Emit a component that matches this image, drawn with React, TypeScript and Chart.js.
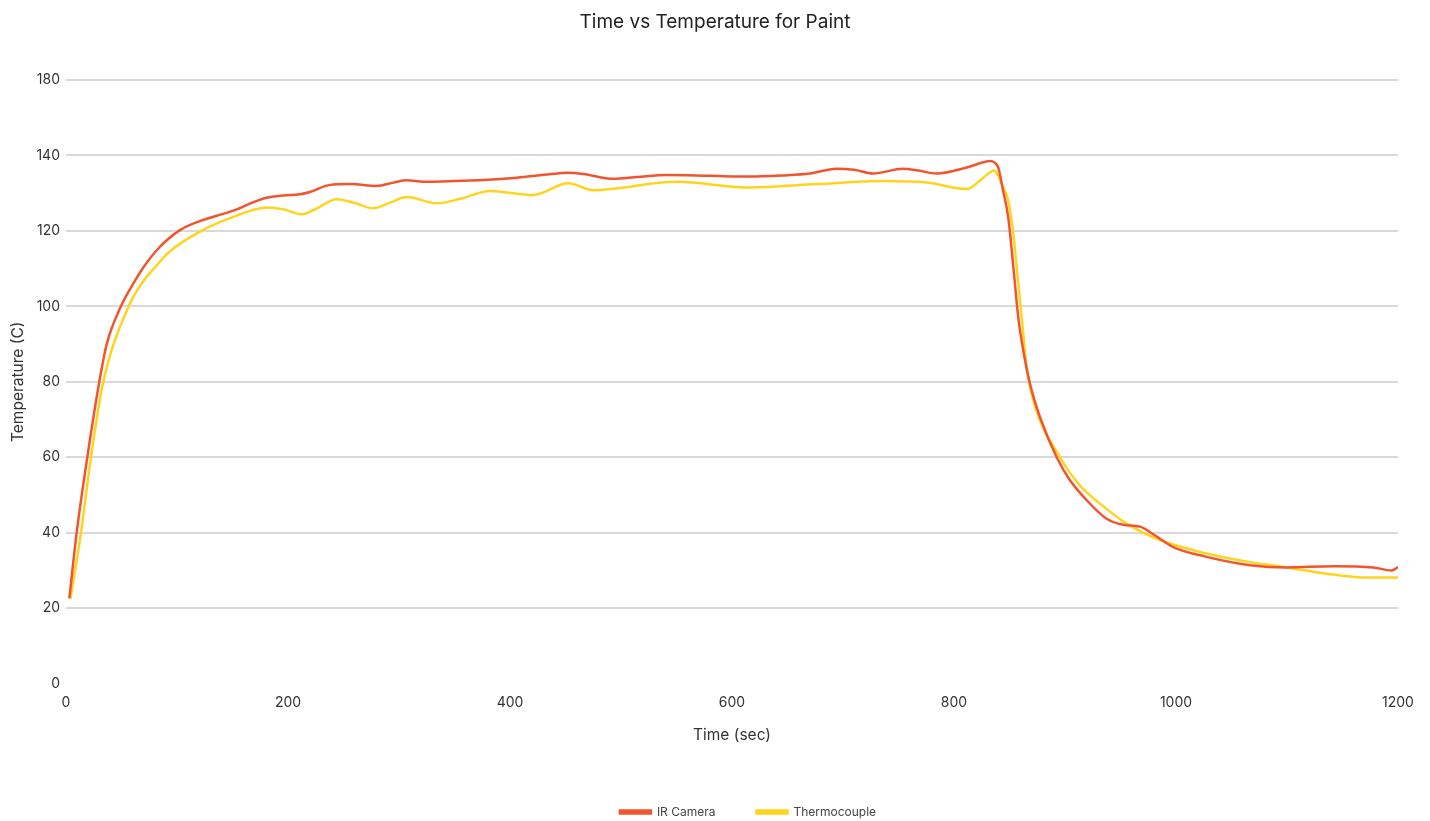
import React, { useEffect, useRef } from 'react';
import { Chart, registerables } from 'chart.js';

Chart.register(...registerables);

const chartTitle = 'Time vs Temperature for Paint';
const xTitle = 'Time (sec)';
const yTitle = 'Temperature (C)';
const seriesNames = ['IR Camera', 'Thermocouple'];

const irTime = [
  3, 9.6, 19.2, 30, 36.7, 49.5, 62.2, 69.6, 84, 102.7, 120.7, 135.8, 153.8, 166, 180.8, 195.8,
  210.8, 219.8, 237.8, 255.9, 279.9, 295, 306.9, 321.9, 350, 375.9, 406, 436, 452, 466, 493,
  515, 541, 580, 616, 645, 670, 694, 710, 727, 754, 768, 784, 811.5, 826.4, 832.4, 836.5,
  839.9, 844, 848.9, 853.5, 857.9, 862.4, 868.5, 877.5, 892.5, 904.5, 919.6, 937.5, 952.5,
  967.5, 979.5, 997.5, 1027.6, 1066.7, 1099.7, 1141.7, 1177.8, 1194.3, 1200,
];
const irTemp = [
  22.6, 40, 60, 80, 90, 100, 106.8, 110.3, 115.6, 120.2, 122.6, 124, 125.7, 127.3, 128.8, 129.4,
  129.7, 130.3, 132.2, 132.4, 131.9, 132.8, 133.4, 133, 133.2, 133.5, 134.1, 135, 135.4, 135.1, 133.8,
  134.3, 134.8, 134.6, 134.4, 134.7, 135.2, 136.5, 136.2, 135.2, 136.5, 136, 135.2, 136.8, 138.2, 138.5, 138.1,
  136.8, 131, 123.5, 110.3, 97.1, 88.3, 79.4, 70.6, 60, 53.9, 48.6, 43.7, 42.1,
  41.6, 39.6, 36.2, 33.6, 31.4, 30.8, 31.1, 30.8, 30.0, 30.9,
];

const tcTime = [
  4, 13.5, 22.5, 33.6, 56.5, 68, 80, 93.7, 120.7, 150.7, 180.8, 195.8, 212.3, 225, 243.9,
  260, 276.8, 292, 306.9, 334, 355, 382, 421, 452.5, 475, 550, 616, 676, 736, 776, 811.5, 826.4,
  836, 844.4, 848.9, 853.5, 856.5, 861, 865.5, 871.5, 895.5, 913.5, 931.5, 955.6, 982.6, 1021.6,
  1066.7, 1099.7, 1141.7, 1171.8, 1200,
];
const tcTemp = [
  22.5, 40, 60, 80, 100, 106, 110.3, 114.6, 119.8, 123.7, 126.2, 125.7, 124.4, 125.8, 128.4,
  127.4, 126, 127.5, 129, 127.3, 128.5, 130.6, 129.5, 132.6, 130.8, 133, 131.5, 132.4, 133.2, 132.8, 131.1, 134.1,
  136, 131.5, 128, 119.1, 110.3, 97.1, 83.8, 75, 60, 52.5, 47.7, 42.4, 38.4, 34.9,
  32.2, 30.8, 28.9, 28.1, 28.1,
];

const yTickValues = [0, 20, 40, 60, 80, 100, 120, 140, 160];
const yTickLabels = ['0', '20', '40', '60', '80', '100', '120', '140', '180'];

const RED = '#F2542D';
const YELLOW = '#FFD41F';
const TEXT = '#333333';
const FONT = 'Inter, "Noto Sans", sans-serif';

const shiftPlugin = {
  id: 'shiftBlocks',
  afterLayout(chart: any) {
    if (chart.legend) {
      chart.legend.left += 16;
      chart.legend.right += 16;
    }
    if (chart.titleBlock) {
      chart.titleBlock.right += 32;
    }
  },
};

export default function App() {
  const ref = useRef<HTMLCanvasElement>(null);

  useEffect(() => {
    if (!ref.current) return;
    const chart = new Chart(ref.current, {
      type: 'line',
      data: {
        datasets: [
          {
            label: seriesNames[0],
            data: irTime.map((t, i) => ({ x: t, y: irTemp[i] })),
            borderColor: RED,
            backgroundColor: RED,
            borderWidth: 2.5,
            pointRadius: 0,
            cubicInterpolationMode: 'monotone',
            fill: false,
          },
          {
            label: seriesNames[1],
            data: tcTime.map((t, i) => ({ x: t, y: tcTemp[i] })),
            borderColor: YELLOW,
            backgroundColor: YELLOW,
            borderWidth: 2.5,
            pointRadius: 0,
            cubicInterpolationMode: 'monotone',
            fill: false,
          },
        ],
      },
      plugins: [shiftPlugin],
      options: {
        animation: false,
        responsive: true,
        maintainAspectRatio: false,
        layout: { padding: { left: 0, right: 32, top: 0, bottom: 0 } },
        scales: {
          x: {
            type: 'linear',
            min: 0,
            max: 1200,
            afterFit: (s: any) => {
              s.height = 81.4;
            },
            ticks: {
              stepSize: 200,
              padding: 11,
              maxRotation: 0,
              color: TEXT,
              font: { family: FONT, size: 14 },
              callback: (v: any) => String(v),
            },
            grid: { display: false, drawTicks: false },
            border: { display: false },
            title: {
              display: true,
              text: xTitle,
              color: TEXT,
              font: { family: FONT, size: 15.5 },
              padding: { top: 12, bottom: 20 },
            },
          },
          y: {
            type: 'linear',
            min: 0,
            max: 160,
            afterFit: (s: any) => {
              s.width = 66;
            },
            ticks: {
              stepSize: 20,
              padding: 6,
              color: TEXT,
              font: { family: FONT, size: 14 },
              callback: (v: any) => {
                const i = yTickValues.indexOf(Number(v));
                return i >= 0 ? yTickLabels[i] : '';
              },
            },
            grid: {
              drawTicks: false,
              lineWidth: 2,
              color: (ctx: any) => (ctx.tick && ctx.tick.value === 0 ? 'rgba(0,0,0,0)' : '#d9d9d9'),
            },
            border: { display: false },
            title: {
              display: true,
              text: yTitle,
              color: TEXT,
              font: { family: FONT, size: 15.5 },
              padding: { top: 9, bottom: 9 },
            },
          },
        },
        plugins: {
          title: {
            display: true,
            text: chartTitle,
            color: '#222222',
            font: { family: FONT, size: 19, weight: 'normal' },
            padding: { top: 10.6, bottom: 46.6 },
          },
          legend: {
            position: 'bottom',
            fullSize: false,
            maxHeight: 56,
            labels: {
              boxWidth: 31,
              boxHeight: 3,
              padding: 41,
              color: '#444444',
              font: { family: FONT, size: 12 },
            },
          },
          tooltip: { enabled: false },
        },
      },
    } as any);
    return () => chart.destroy();
  }, []);

  return (
    <div style={{ position: 'fixed', left: 0, top: 0, width: 1430, height: 821, background: '#ffffff' }}>
      <canvas ref={ref} />
    </div>
  );
}
